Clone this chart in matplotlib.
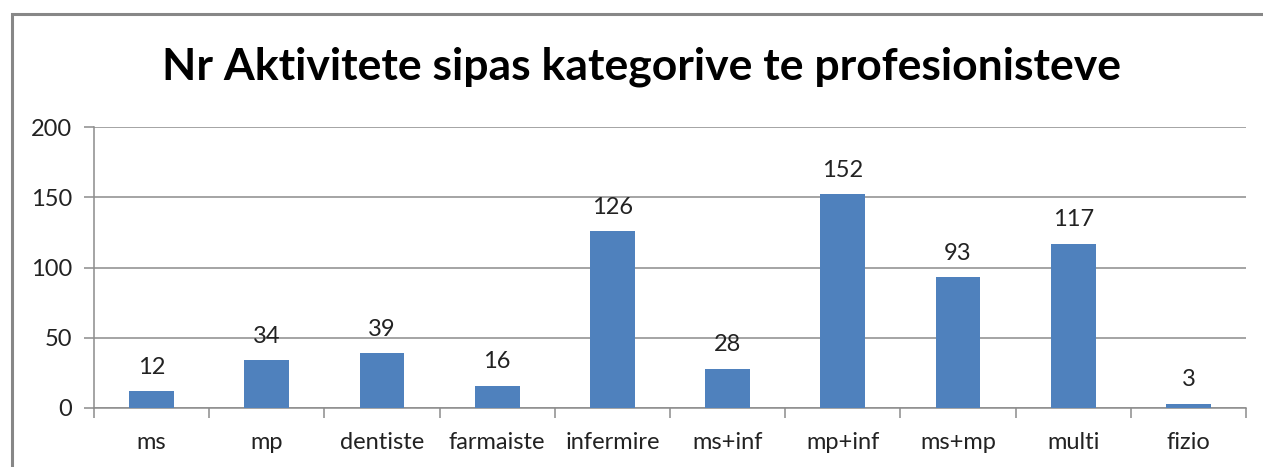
import matplotlib
matplotlib.use("Agg")
import matplotlib.pyplot as plt
from matplotlib.patches import Rectangle
import numpy as np

categories = ["ms", "mp", "dentiste", "farmaiste", "infermire", "ms+inf", "mp+inf", "ms+mp", "multi", "fizio"]
values = [12, 34, 39, 16, 126, 28, 152, 93, 117, 3]
yticks = [0, 50, 100, 150, 200]
title = "Nr Aktivitete sipas kategorive te profesionisteve"

plt.rcParams['font.family'] = ['Lato', 'DejaVu Sans']

W, H = 1263, 467
fig = plt.figure(figsize=(W / 100, H / 100), dpi=100)
fig.patch.set_facecolor("white")

# outer chart border (extends past right/bottom edges)
fig.patches.append(Rectangle((12 / W, -0.1), 1.2, (1 - 14 / H) + 0.1,
                             transform=fig.transFigure, fill=False,
                             edgecolor="#878787", linewidth=2.2, zorder=0))

ax = fig.add_axes([94 / W, 1 - 408 / H, (1246 - 94) / W, (408 - 127) / H])
x = np.arange(len(categories))
bars = ax.bar(x, values, width=0.39, color="#4F81BD", zorder=3)

ax.set_xlim(-0.5, len(categories) - 0.5)
ax.set_ylim(0, 200)
ax.set_yticks(yticks)
ax.set_yticklabels([str(t) for t in yticks], fontsize=17, color="#222222")
ax.yaxis.grid(True, color="#8c8c8c", linewidth=1.1, zorder=0)
ax.set_axisbelow(True)

# x ticks at category boundaries, labels centered
ax.set_xticks(np.arange(-0.5, len(categories) + 0.5, 1))
ax.set_xticklabels([])
ax.set_xticks(x, minor=True)
ax.set_xticklabels(categories, minor=True, fontsize=17, color="#222222")
ax.tick_params(axis="x", which="major", length=7, width=1.1, color="#8c8c8c", direction="out")
ax.tick_params(axis="x", which="minor", length=0, pad=17)
ax.tick_params(axis="y", length=7, width=1.1, color="#8c8c8c", pad=9)

for s in ["top", "right"]:
    ax.spines[s].set_visible(False)
for s in ["left", "bottom"]:
    ax.spines[s].set_color("#8c8c8c")
    ax.spines[s].set_linewidth(1.1)

for xi, v in zip(x, values):
    ax.annotate(str(v), (xi, v), xytext=(0, 12.5), textcoords="offset points",
                ha="center", va="baseline", fontsize=17, color="#222222")

fig.text(0.5 + 10 / W, 1 - 67 / H, title, ha="center", va="center",
         fontsize=32, fontweight="bold", color="black")

fig.savefig("out.png", dpi=100, facecolor="white")
